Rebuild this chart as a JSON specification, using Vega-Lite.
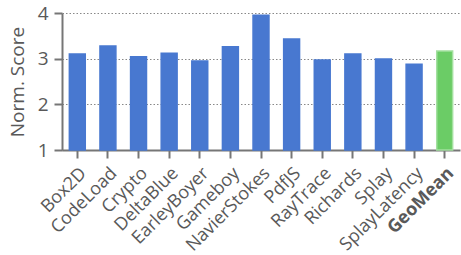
{
  "$schema": "https://vega.github.io/schema/vega-lite/v6.json",
  "autosize": "none",
  "width": 398,
  "height": 137,
  "padding": {"left": 62, "top": 13, "right": 1, "bottom": 105},
  "background": "white",
  "config": {"view": {"stroke": null}, "font": "Open Sans"},
  "data": {"values": [
    {"name": "Box2D", "score": 3.10, "kind": "bench"},
    {"name": "CodeLoad", "score": 3.28, "kind": "bench"},
    {"name": "Crypto", "score": 3.04, "kind": "bench"},
    {"name": "DeltaBlue", "score": 3.12, "kind": "bench"},
    {"name": "EarleyBoyer", "score": 2.95, "kind": "bench"},
    {"name": "Gameboy", "score": 3.26, "kind": "bench"},
    {"name": "NavierStokes", "score": 3.95, "kind": "bench"},
    {"name": "PdfJS", "score": 3.43, "kind": "bench"},
    {"name": "RayTrace", "score": 2.97, "kind": "bench"},
    {"name": "Richards", "score": 3.10, "kind": "bench"},
    {"name": "Splay", "score": 2.99, "kind": "bench"},
    {"name": "SplayLatency", "score": 2.88, "kind": "bench"},
    {"name": "GeoMean", "score": 3.17, "kind": "mean"}
  ]},
  "mark": {"type": "bar", "strokeWidth": 1.5},
  "encoding": {
    "x": {
      "field": "name", "type": "nominal", "sort": null,
      "scale": {"paddingInner": 0.48, "paddingOuter": 0.24},
      "axis": {
        "title": null, "labelAngle": -45, "labelFontSize": 18, "labelColor": "#595959",
        "labelFontWeight": {"expr": "datum.value == 'GeoMean' ? 'bold' : 'normal'"},
        "domainColor": "#767676", "domainWidth": 2, "tickColor": "#767676", "tickWidth": 2, "tickSize": 8,
        "labelPadding": 6
      }
    },
    "y": {
      "field": "score", "type": "quantitative",
      "scale": {"domain": [1, 4], "zero": false, "nice": false},
      "axis": {
        "title": "Norm. Score", "titleFontSize": 19, "titleFontWeight": "normal", "titleColor": "#595959", "titlePadding": 10,
        "values": [1, 2, 3, 4], "labelFontSize": 19, "labelColor": "#595959", "labelPadding": 6,
        "domainColor": "#767676", "domainWidth": 2, "tickColor": "#767676", "tickWidth": 2, "tickSize": 8,
        "gridColor": "#888888", "gridDash": [1.5, 2], "gridWidth": 1
      }
    },
    "y2": {"datum": 1},
    "color": {"field": "kind", "type": "nominal", "legend": null,
      "scale": {"domain": ["bench", "mean"], "range": ["#4878d0", "#6bcc66"]}},
    "stroke": {"field": "kind", "type": "nominal", "legend": null,
      "scale": {"domain": ["bench", "mean"], "range": ["#4878d0", "#a3e09f"]}}
  }
}
